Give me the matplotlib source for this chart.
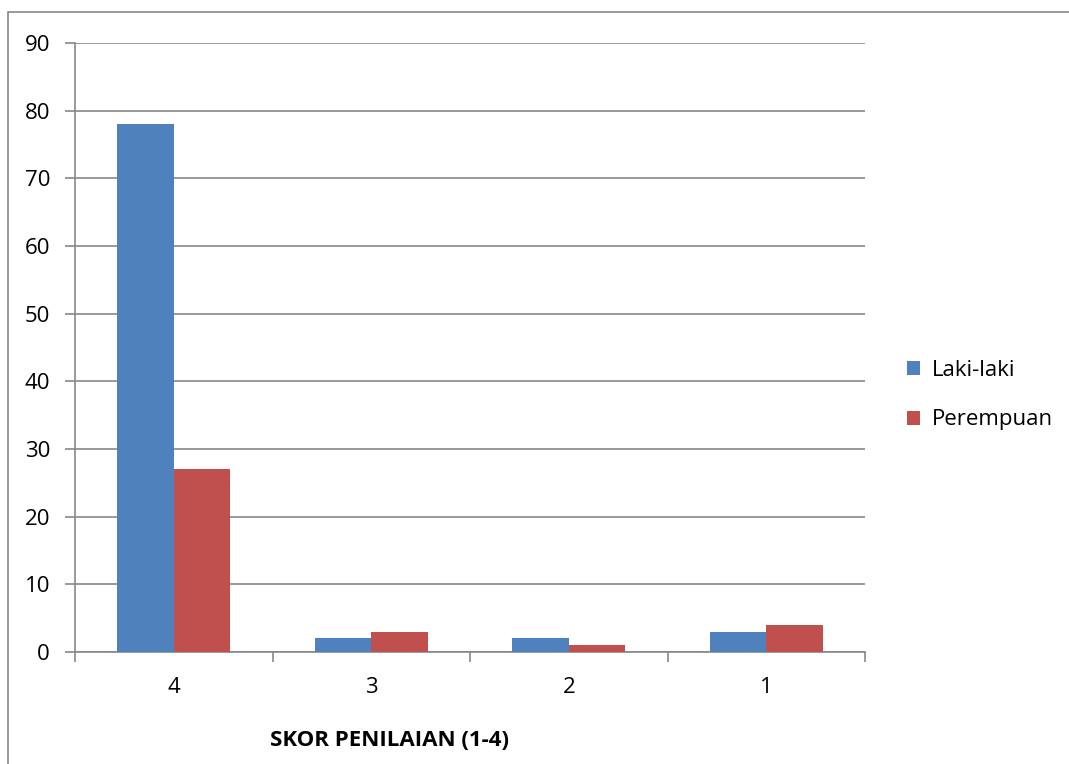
import matplotlib
matplotlib.use("Agg")
import matplotlib.pyplot as plt
from matplotlib.patches import Rectangle
import numpy as np

categories = ["4", "3", "2", "1"]
laki = [78, 2, 2, 3]
perempuan = [27, 3, 1, 4]
series_names = ["Laki-laki", "Perempuan"]
yticks = [0, 10, 20, 30, 40, 50, 60, 70, 80, 90]

W, H = 1069, 764
fig = plt.figure(figsize=(W / 100, H / 100), dpi=100)
plt.rcParams['font.family'] = ['Open Sans', 'DejaVu Sans']

# outer frame
fig.patches.append(Rectangle((8 / W, -0.1), 2.0, (H - 12) / H + 0.1, transform=fig.transFigure,
                             fill=False, edgecolor='#888888', linewidth=1.2))

ax = fig.add_axes([75 / W, 1 - 652 / H, (865 - 75) / W, (652 - 43) / H])
x = np.arange(len(categories))
w = 1 / 3.5
blue = '#4F81BD'
red = '#C0504D'
ax.bar(x - w / 2, laki, width=w, color=blue, label=series_names[0], zorder=3)
ax.bar(x + w / 2, perempuan, width=w, color=red, label=series_names[1], zorder=3)

ax.set_xlim(-0.5, len(categories) - 0.5)
ax.set_ylim(0, 90)
ax.set_yticks(yticks)
ax.set_yticklabels([str(v) for v in yticks], fontsize=16)
ax.yaxis.grid(True, color='#888888', linewidth=1.2, zorder=0)
ax.set_xticks(x)
ax.set_xticklabels(categories, fontsize=16)
ax.tick_params(axis='x', length=0, pad=18)
ax.set_xticks(np.arange(-0.5, len(categories), 1), minor=True)
ax.tick_params(axis='x', which='minor', length=7, color='#888888', width=1.2)
ax.tick_params(axis='y', length=7, color='#888888', width=1.2, pad=11)
for s in ['top', 'right']:
    ax.spines[s].set_visible(False)
for s in ['left', 'bottom']:
    ax.spines[s].set_color('#888888')
    ax.spines[s].set_linewidth(1.2)

fig.text(390 / W, 1 - 741 / H, "SKOR PENILAIAN (1-4)", ha='center', va='center',
         fontsize=16, fontweight='bold')

leg = ax.legend(loc='center left', bbox_to_anchor=(887 / W, 1 - 395 / H),
                bbox_transform=fig.transFigure, frameon=False, fontsize=16,
                handlelength=0.6, handleheight=0.6, handletextpad=0.5, labelspacing=1.3)

fig.savefig("out.png", dpi=100)
